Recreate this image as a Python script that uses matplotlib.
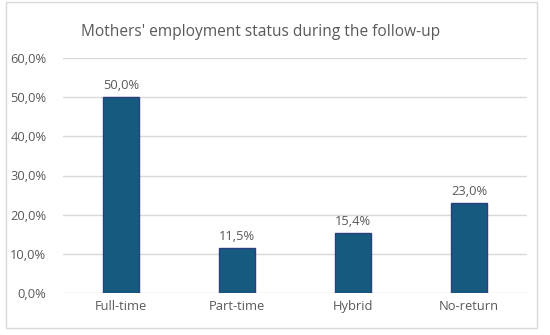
import matplotlib
matplotlib.use("Agg")
import matplotlib.pyplot as plt
from matplotlib.patches import Rectangle

categories = ["Full-time", "Part-time", "Hybrid", "No-return"]
values = [50.0, 11.5, 15.4, 23.0]
yticks = [0, 10, 20, 30, 40, 50, 60]

BAR = "#175a80"
EDGE = "#2a3f7e"
TXT = "#595959"
GRID = "#d9d9d9"


def pct(v):
    return f"{v:.1f}%".replace(".", ",")


plt.rcParams["font.family"] = ["Open Sans", "DejaVu Sans"]
fig = plt.figure(figsize=(5.5, 3.35), dpi=100)
fig.patches.append(Rectangle((6 / 550, 7 / 335), 531 / 550, 326 / 335, transform=fig.transFigure,
                             fill=False, edgecolor=GRID, linewidth=1.0))
ax = fig.add_axes([63 / 550, 42 / 335, 464 / 550, 235 / 335])

x = range(len(categories))
ax.bar(x, values, width=0.31, color=BAR, edgecolor=EDGE, linewidth=1.0, zorder=3)
for i, v in zip(x, values):
    ax.text(i, v + 1.3, pct(v), ha="center", va="bottom", fontsize=9.3, color=TXT)

ax.set_xlim(-0.5, len(categories) - 0.5)
ax.set_ylim(0, 60)
ax.set_yticks(yticks)
ax.set_yticklabels([pct(t) for t in yticks], fontsize=9.3, color=TXT)
ax.set_xticks(list(x))
ax.set_xticklabels(categories, fontsize=9.3, color=TXT)
ax.tick_params(length=0, pad=5)
ax.tick_params(axis="y", pad=12)
ax.grid(axis="y", color=GRID, linewidth=1.0, zorder=0)
for s in ax.spines.values():
    s.set_visible(False)

fig.text(0.473, 0.905, "Mothers' employment status during the follow-up", ha="center", va="center",
         fontsize=11.2, color=TXT)

fig.savefig("out.png", dpi=100)
